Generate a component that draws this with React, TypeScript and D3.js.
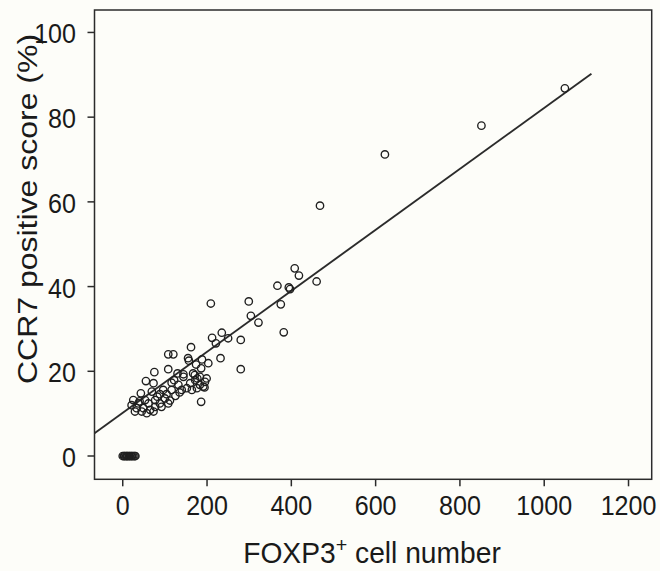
import * as d3 from "d3";

// FOXP3+ cell number (x) vs CCR7 positive score % (y)
const foxp3Counts = [
  1049, 851, 622, 468, 408, 418, 460, 367, 394, 397, 209, 299, 375, 304, 322,
  382, 235, 212, 250, 280, 221, 162, 108, 120, 155, 157, 188, 232, 203, 280,
  174, 186, 167, 144, 199, 177, 160, 183, 194, 140, 186, 75, 108, 130, 171,
  55, 73, 144, 122, 132, 116, 172, 183, 195, 191, 176, 164, 152, 69, 88, 104,
  116, 96, 43, 25, 37, 53, 61, 77, 88, 108, 112, 21, 33, 49, 65, 77, 92, 29,
  45, 57, 73, 40, 82, 100, 125, 135,
];
const ccr7Scores = [
  86.8, 78.0, 71.2, 59.1, 44.3, 42.6, 41.2, 40.2, 39.8, 39.4, 36.0, 36.5, 35.8,
  33.1, 31.5, 29.2, 29.1, 27.9, 27.8, 27.4, 26.6, 25.7, 24.0, 24.0, 23.1, 22.5,
  22.8, 23.1, 21.9, 20.5, 21.6, 20.7, 19.5, 19.3, 18.3, 18.3, 17.2, 16.8, 16.2,
  15.6, 12.8, 19.8, 20.5, 19.5, 19.1, 17.7, 17.2, 18.7, 17.9, 16.8, 17.3, 17.9,
  18.7, 17.5, 16.4, 16.0, 15.6, 16.0, 15.2, 14.6, 14.6, 15.6, 15.6, 14.8, 13.2,
  12.4, 13.2, 12.4, 13.2, 12.4, 12.4, 13.1, 12.0, 11.3, 11.3, 10.9, 11.6, 11.6,
  10.5, 10.5, 10.1, 10.5, 12.9, 14.0, 13.6, 14.2, 15.0,
];
// negative cases, all at 0 %
const zeroCounts = [0, 3, 5, 8, 10, 12, 15, 17, 20, 22, 25, 28, 30];
const zeroScores = [0, 0, 0, 0, 0, 0, 0, 0, 0, 0, 0, 0, 0];

const xTicks = [0, 200, 400, 600, 800, 1000, 1200];
const yTicks = [0, 20, 40, 60, 80, 100];

// fitted regression line
const fitIntercept = 10.2;
const fitSlope = 0.072;
const fitRange = [-67, 1112];

const W = 660;
const H = 571;
const font = "'Liberation Sans', Arial, sans-serif";
const ink = "#2b2b2b";
const textInk = "#1a1a1a";
// the original figure is a bit squeezed horizontally
const squeeze = 0.88;

export default function App() {
  const x = d3.scaleLinear().domain([-67, 1255]).range([94.5, 651.7]);
  const y = d3.scaleLinear().domain([-5.5, 105.3]).range([479.3, 10]);

  const points = foxp3Counts
    .map((v, i) => [v, ccr7Scores[i]])
    .concat(zeroCounts.map((v, i) => [v, zeroScores[i]]));

  const line = d3
    .line<number>()
    .x((d) => x(d))
    .y((d) => y(fitIntercept + fitSlope * d));

  const [x0, x1] = x.range();
  const [yb, yt] = y.range();

  return (
    <svg
      width={W}
      height={H}
      style={{ position: "absolute", left: 0, top: 0, background: "#fdfdf9" }}
    >
      {/* plot frame */}
      <rect
        x={x0}
        y={yt}
        width={x1 - x0}
        height={yb - yt}
        fill="none"
        stroke={ink}
        strokeWidth={1.5}
      />

      {/* x axis */}
      {xTicks.map((t) => (
        <g key={"x" + t}>
          <line x1={x(t)} x2={x(t)} y1={yb} y2={yb + 7} stroke={ink} strokeWidth={1.5} />
          <text
            transform={`translate(${x(t)},515) scale(${squeeze},1)`}
            textAnchor="middle"
            fontFamily={font}
            fontSize={28.5}
            fill={textInk}
          >
            {t}
          </text>
        </g>
      ))}

      {/* y axis */}
      {yTicks.map((t) => (
        <g key={"y" + t}>
          <line x1={x0 - 7} x2={x0} y1={y(t)} y2={y(t)} stroke={ink} strokeWidth={1.5} />
          <text
            transform={`translate(76,${y(t) + 11}) scale(${squeeze},1)`}
            textAnchor="end"
            fontFamily={font}
            fontSize={28.5}
            fill={textInk}
          >
            {t}
          </text>
        </g>
      ))}

      {/* regression line */}
      <path d={line(fitRange) || ""} fill="none" stroke={ink} strokeWidth={1.9} />

      {/* points */}
      {points.map((d, i) => (
        <circle
          key={i}
          cx={x(d[0])}
          cy={y(d[1])}
          r={3.7}
          fill="none"
          stroke="#1f1f1f"
          strokeWidth={1.35}
        />
      ))}

      {/* axis titles */}
      <text
        transform="translate(372,563) scale(0.94,1)"
        textAnchor="middle"
        fontFamily={font}
        fontSize={30}
        fill={textInk}
      >
        FOXP3
        <tspan fontSize={21} dy={-11}>+</tspan>
        <tspan dy={11}> cell number</tspan>
      </text>
      <text
        transform="translate(37,209) rotate(-90) scale(1,0.875)"
        textAnchor="middle"
        fontFamily={font}
        fontSize={32}
        fill={textInk}
      >
        CCR7 positive score (%)
      </text>
    </svg>
  );
}
